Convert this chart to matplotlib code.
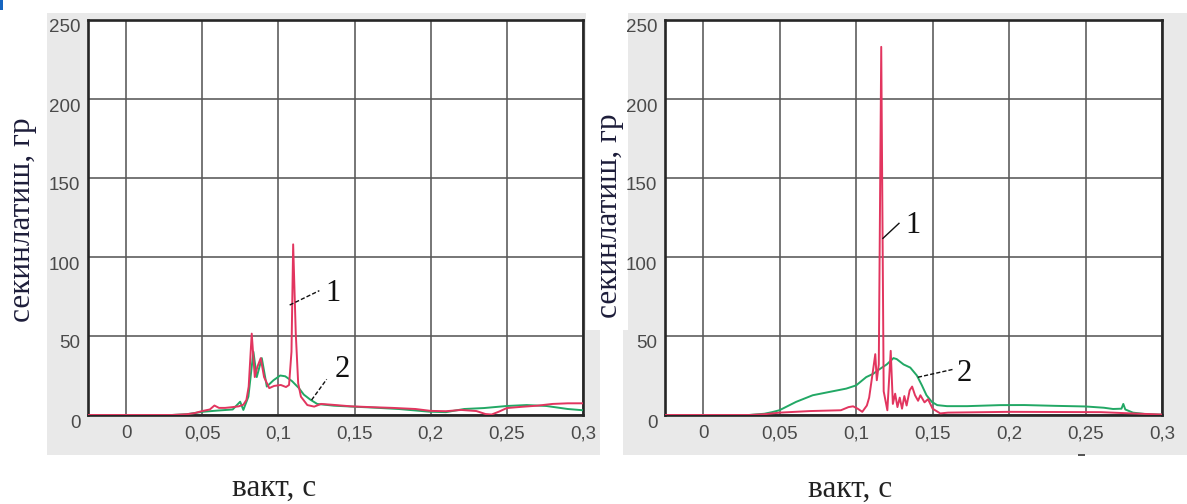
import matplotlib
matplotlib.use("Agg")
import matplotlib.pyplot as plt
from matplotlib.patches import Rectangle
from matplotlib.transforms import ScaledTranslation

# ---- data -------------------------------------------------------------
x_ticks = [0, 0.05, 0.1, 0.15, 0.2, 0.25, 0.3]
x_tick_labels = ["0", "0,05", "0,1", "0,15", "0,2", "0,25", "0,3"]
y_ticks = [0, 50, 100, 150, 200, 250]
y_tick_labels = ["0", "50", "100", "150", "200", "250"]
x_label = "вакт, с"
y_label = "секинлатиш, гр"

# left panel, curve 1 (red)
left_t1 = [-0.025, 0.030, 0.040, 0.045, 0.050, 0.055, 0.058, 0.061, 0.065, 0.070,
           0.074, 0.077, 0.079, 0.0805, 0.0825, 0.0845, 0.0862, 0.0884, 0.0906, 0.094,
           0.0972, 0.1016, 0.105, 0.107, 0.1086, 0.1097, 0.1114, 0.113, 0.1148, 0.119,
           0.1235, 0.128, 0.135, 0.1475, 0.16, 0.175, 0.19, 0.2, 0.21, 0.22,
           0.23, 0.236, 0.24, 0.245, 0.25, 0.26, 0.27, 0.28, 0.29, 0.3]
left_v1 = [0, 0, 0.5, 1.2, 2.5, 3.5, 6, 4.5, 4.5, 5,
           5.5, 6.5, 9.5, 18, 51.5, 24, 30.5, 36, 24, 17,
           18.4, 19, 17.7, 19, 40, 108, 52, 20, 11.6, 6.3,
           5.3, 7, 6.5, 5.5, 5, 4.5, 3.8, 2.6, 2.4, 3.2,
           2.5, 0.6, 0.3, 2.2, 4.4, 5.2, 5.9, 7.0, 7.4, 7.4]

# left panel, curve 2 (green)
left_t2 = [-0.025, 0.03, 0.04, 0.05, 0.06, 0.07, 0.0749, 0.077, 0.0803, 0.0836,
           0.0858, 0.0891, 0.0924, 0.0968, 0.1012, 0.1045, 0.109, 0.1134, 0.1167, 0.121,
           0.1255, 0.1364, 0.1488, 0.16, 0.179, 0.199, 0.21, 0.222, 0.235, 0.25,
           0.263, 0.276, 0.29, 0.3]
left_v2 = [0, 0, 0.5, 2, 2.8, 3.5, 8.4, 3.2, 11.6, 40,
           24, 36, 18, 22, 25, 24.5, 21.4, 17.1, 12.9, 9.7,
           7, 5.9, 5.3, 4.8, 3.8, 2.1, 1.8, 3.8, 4.4, 5.7,
           6.3, 5.7, 3.8, 3]

# right panel, curve 1 (red)
right_t1 = [-0.025, 0.03, 0.04, 0.05, 0.07, 0.09, 0.095, 0.098, 0.101, 0.104,
            0.107, 0.1085, 0.111, 0.1125, 0.1135, 0.1148, 0.1164, 0.118, 0.1204, 0.1226,
            0.124, 0.1255, 0.127, 0.1285, 0.130, 0.1315, 0.133, 0.135, 0.1366, 0.1385,
            0.1405, 0.142, 0.1447, 0.147, 0.150, 0.155, 0.16, 0.2, 0.26, 0.28, 0.3]
right_v1 = [0, 0, 0.5, 1.5, 2.5, 3, 5, 5.5, 4, 2,
            6, 11, 28, 38.5, 22, 32, 233, 15, 3, 40.6,
            7, 13.5, 5, 11, 4, 12, 6, 15.6, 18, 12.5,
            9, 12.5, 8, 10, 4, 1, 1.5, 2, 1.8, 1, 0.3]

# right panel, curve 2 (green)
right_t2 = [-0.025, 0.03, 0.04, 0.045, 0.0498, 0.0607, 0.0716, 0.0825, 0.0935, 0.1,
            0.1066, 0.111, 0.1153, 0.12, 0.1244, 0.1265, 0.131, 0.1354, 0.1397, 0.143,
            0.146, 0.1495, 0.153, 0.1594, 0.1725, 0.194, 0.21, 0.23, 0.25, 0.262,
            0.268, 0.2735, 0.2747, 0.276, 0.281, 0.29, 0.3]
right_v2 = [0, 0, 0.8, 1.8, 3, 8.3, 12.5, 14.6, 16.7, 18.75,
            24, 26, 29, 32, 36, 35.4, 32, 30, 25, 18.75,
            12.5, 8.3, 6.25, 5.6, 5.6, 6.25, 6.3, 5.8, 5.4, 4.6,
            3.8, 4, 7, 3.5, 1.5, 0.5, 0.2]

# curve number callouts: (label, line start, line end, text position, line style)
left_notes = [("1", (0.1074, 69.6), (0.1269, 78.7), (0.1356, 77), (0, (3, 1.5))),
              ("2", (0.1218, 9.5), (0.1317, 22.6), (0.142, 28.5), (0, (3, 1.5)))]
right_notes = [("1", (0.1175, 111.8), (0.128, 121.3), (0.137, 120), "-"),
               ("2", (0.1404, 23.9), (0.1634, 28.9), (0.171, 26), (0, (3, 1.5)))]

# ---- styling ----------------------------------------------------------
W, H = 1187, 504
RED = "#e2355f"
GREEN = "#22a865"
PANEL_BG = "#e9e9e9"
TICK_FONT = ["Liberation Sans", "DejaVu Sans"]
SERIF = ["Liberation Serif", "DejaVu Serif"]

fig = plt.figure(figsize=(W / 100, H / 100), dpi=100)
fig.patch.set_facecolor("white")


def frac_rect(x0, y0, x1, y1):
    """Pixel box (top-left origin) to figure-fraction rectangle."""
    return (x0 / W, 1 - y1 / H, (x1 - x0) / W, (y1 - y0) / H)


def add_box(x0, y0, x1, y1, color, z):
    l, b, w, h = frac_rect(x0, y0, x1, y1)
    fig.patches.append(Rectangle((l, b), w, h, transform=fig.transFigure,
                                 facecolor=color, edgecolor="none", zorder=z))


# light gray panels behind each chart
add_box(47, 13, 600, 455, PANEL_BG, -2)
add_box(623, 13, W, 455, PANEL_BG, -2)
# white band behind the right-hand axis title
add_box(586, 0, 628, 330, "white", -1)
# small blue marker in the top-left corner
add_box(0, 0, 3, 10, "#1565c0", -1)
# short dark tick under the right panel
add_box(1078, 454, 1085, 456, "#555555", -1)


def make_axes(x0, x1, y0=20, y1=415):
    ax = fig.add_axes(frac_rect(x0, y0, x1, y1))
    ax.set_xlim(-0.025, 0.3)
    ax.set_ylim(0, 250)
    ax.set_xticks(x_ticks)
    ax.set_xticklabels(x_tick_labels)
    ax.set_yticks(y_ticks)
    ax.set_yticklabels(y_tick_labels)
    ax.tick_params(length=0, colors="#4a4a4a", labelsize=13.5)
    ax.tick_params(axis="x", pad=7.5)
    ax.tick_params(axis="y", pad=5.5)
    for lab in ax.get_xticklabels() + ax.get_yticklabels():
        lab.set_family(TICK_FONT)
    # y labels sit slightly below their grid lines
    shift = ScaledTranslation(0, -6 / 100, fig.dpi_scale_trans)
    for lab in ax.get_yticklabels():
        lab.set_transform(lab.get_transform() + shift)
    ax.grid(True, color="#585858", linewidth=1.15)
    ax.set_axisbelow(True)
    for sp in ax.spines.values():
        sp.set_color("#262626")
        sp.set_linewidth(1.9)
    ax.set_facecolor("white")
    return ax


def draw_panel(ax, t1, v1, t2, v2, notes):
    ax.plot(t2, v2, color=GREEN, linewidth=1.4, zorder=3)
    ax.plot(t1, v1, color=RED, linewidth=1.4, zorder=4)
    for text, (xa, ya), (xb, yb), (xt, yt), ls in notes:
        ax.plot([xa, xb], [ya, yb], color="#111111", linewidth=1.0,
                linestyle=ls, zorder=5)
        ax.text(xt, yt, text, ha="center", va="center", fontsize=22,
                family=SERIF, color="#111111", zorder=6)


ax_l = make_axes(88, 583)
draw_panel(ax_l, left_t1, left_v1, left_t2, left_v2, left_notes)
ax_r = make_axes(665, 1162)
draw_panel(ax_r, right_t1, right_v1, right_t2, right_v2, right_notes)

# axis titles
for cx, cy in [(23, 220), (610, 216)]:
    fig.text(cx / W, 1 - cy / H, y_label, rotation=90, ha="center", va="center",
             fontsize=22.5, family=SERIF, color="#1d1d3a")
for cx, base in [(274, 496), (850, 497)]:
    fig.text(cx / W, 1 - base / H, x_label, ha="center", va="baseline",
             fontsize=22.5, family=SERIF, color="#222222")

fig.savefig("out.png", dpi=100)
